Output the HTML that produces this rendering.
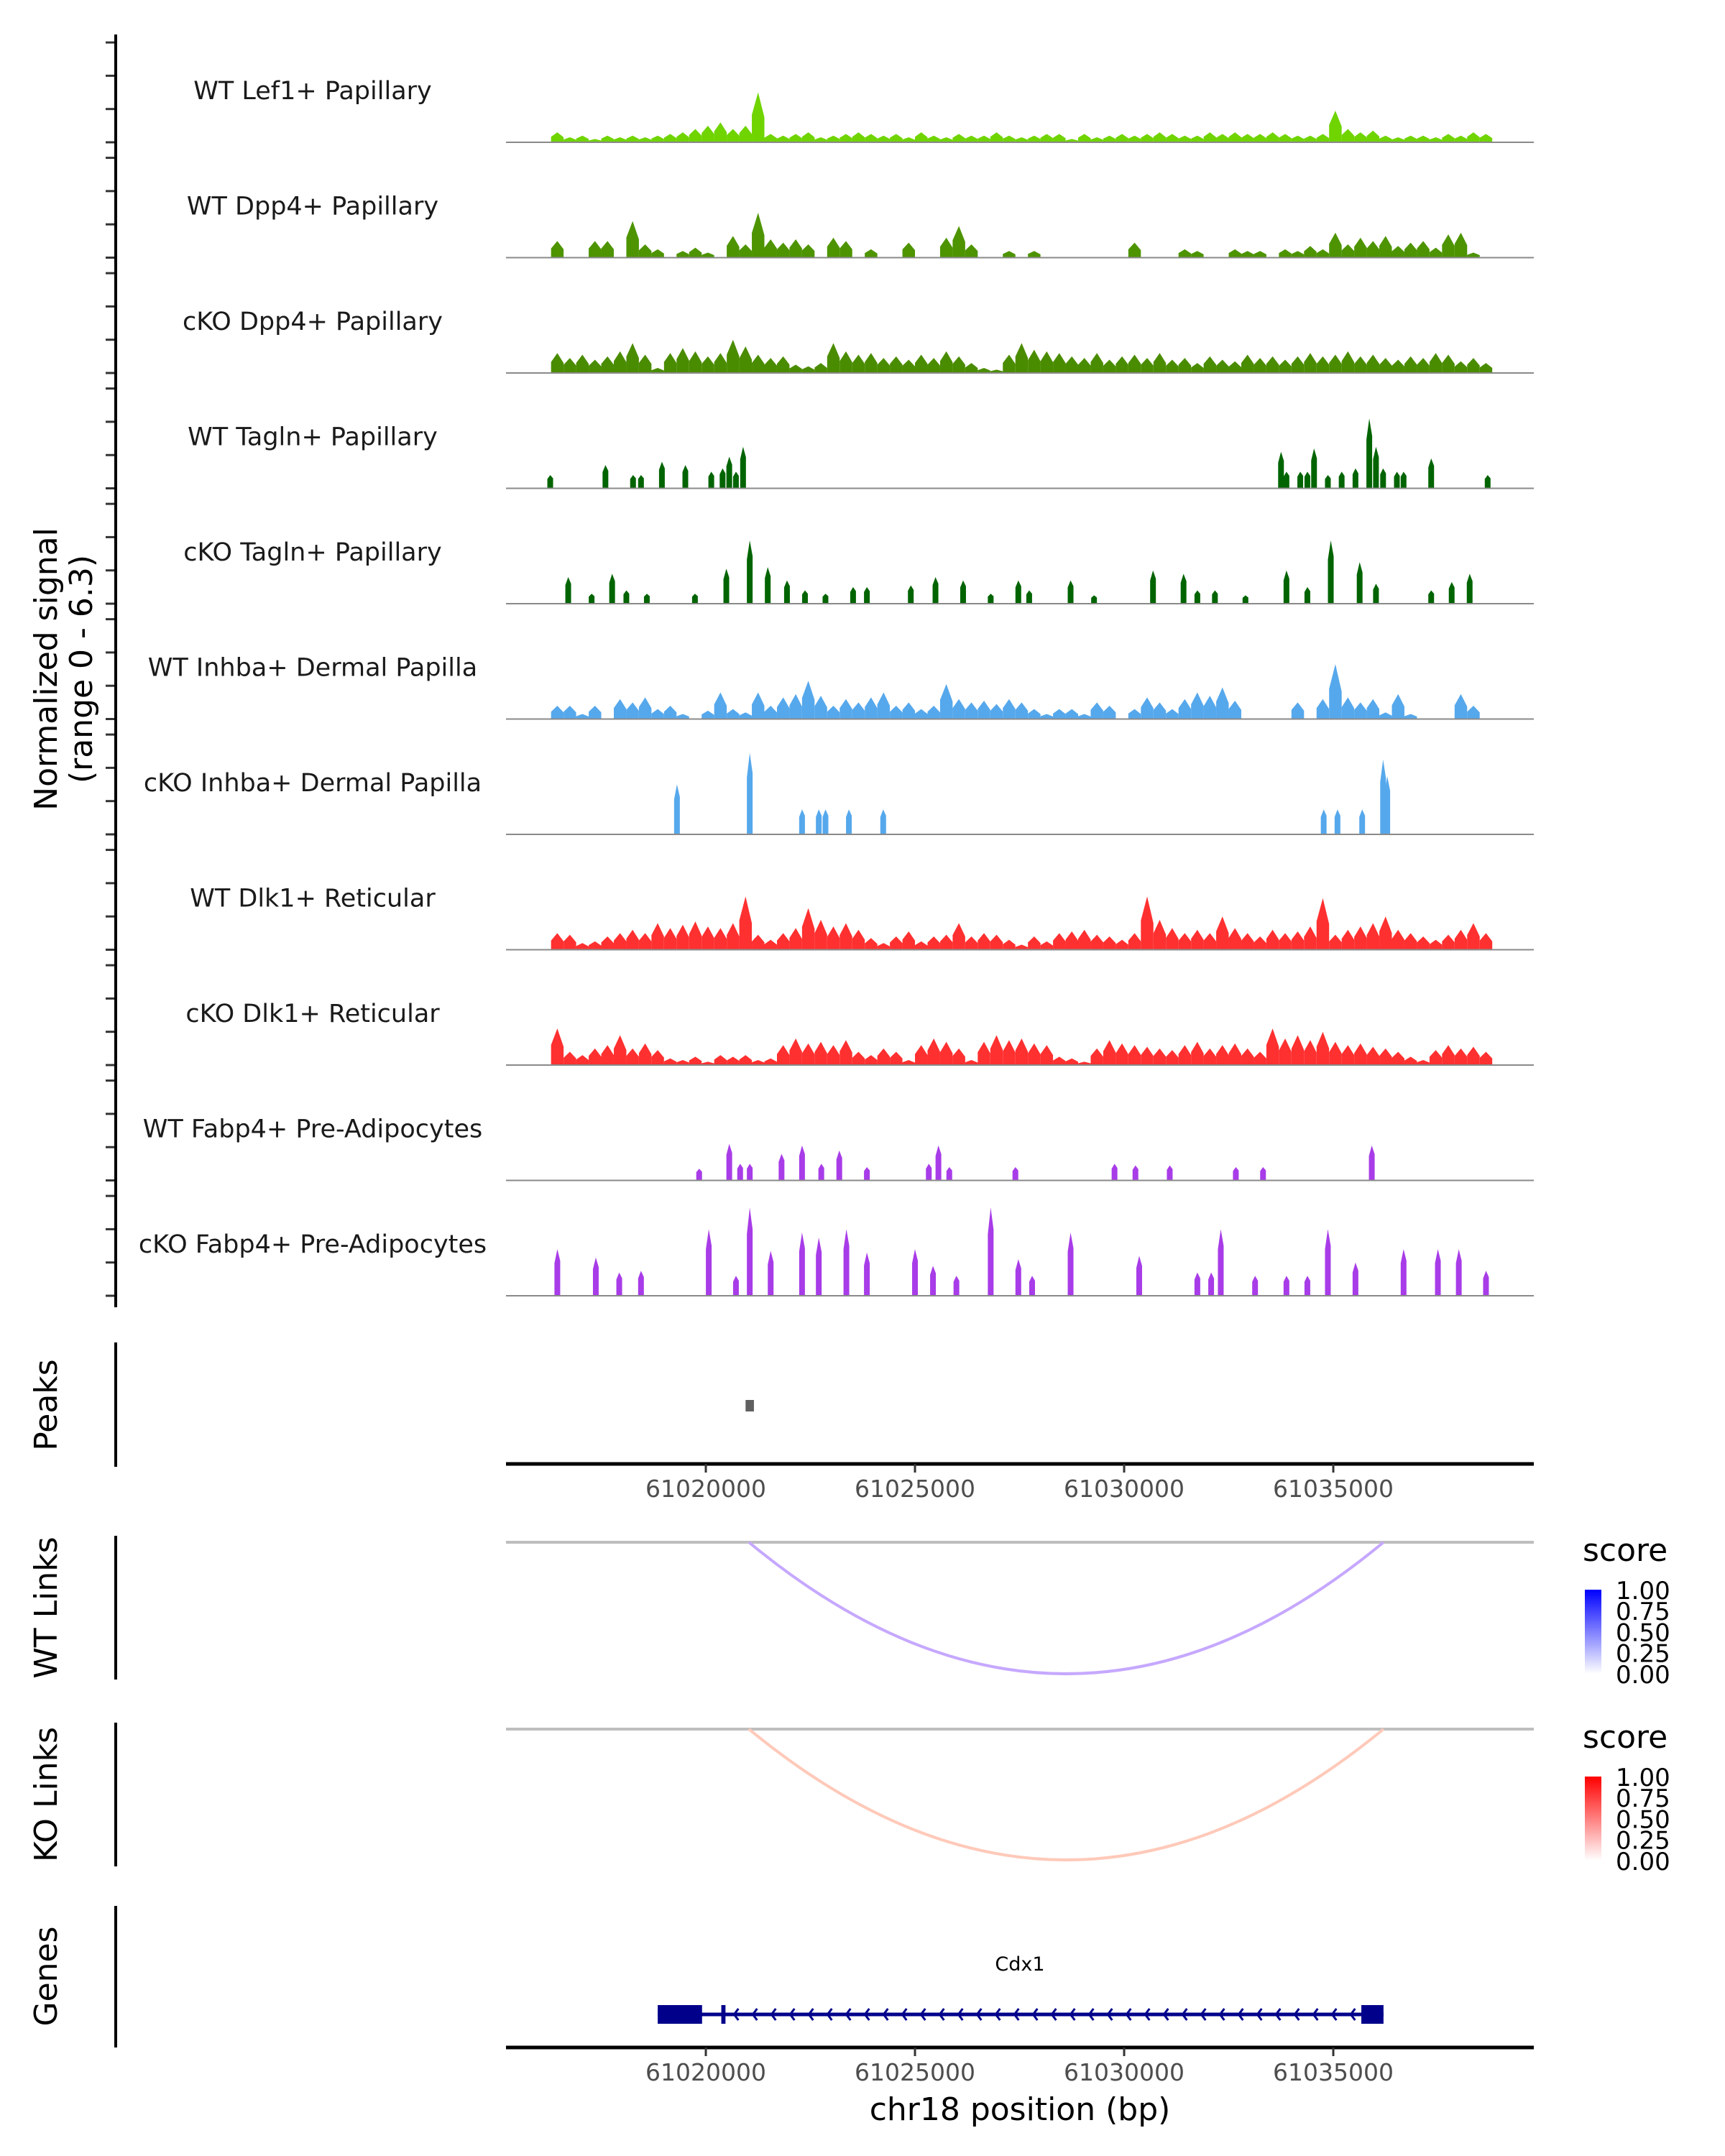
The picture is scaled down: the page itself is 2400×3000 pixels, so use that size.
<!DOCTYPE html>
<html><head><meta charset="utf-8"><style>
html,body{margin:0;padding:0;background:#fff;}
svg{display:block;font-family:"DejaVu Sans","Liberation Sans",sans-serif;}
</style></head><body>
<svg id="chart" width="2400" height="3000" viewBox="0 0 2400 3000" xmlns="http://www.w3.org/2000/svg">
<defs>
<linearGradient id="gBlue" x1="0" y1="0" x2="0" y2="1"><stop offset="0" stop-color="#0000ff"/><stop offset="1" stop-color="#ffffff"/></linearGradient>
<linearGradient id="gRed" x1="0" y1="0" x2="0" y2="1"><stop offset="0" stop-color="#ff0000"/><stop offset="1" stop-color="#ffffff"/></linearGradient>
</defs>
<g id="tracks"></g>
<g id="rest"></g>
</svg>
<script>
// positions in kb offset from 61015000 bp
const trackNames = ["WT Lef1+ Papillary","WT Dpp4+ Papillary","cKO Dpp4+ Papillary","WT Tagln+ Papillary","cKO Tagln+ Papillary","WT Inhba+ Dermal Papilla","cKO Inhba+ Dermal Papilla","WT Dlk1+ Reticular","cKO Dlk1+ Reticular","WT Fabp4+ Pre-Adipocytes","cKO Fabp4+ Pre-Adipocytes"];
const trackColors = ["#6fd400","#4d9400","#4a8c00","#006400","#006400","#56a8ec","#56a8ec","#ff3030","#ff3030","#a83ce8","#a83ce8"];
const binStartKb = 1.30;
const binWidthKb = 0.3;
const lef1WT = [0.6,0.3,0.4,0.2,0.4,0.3,0.4,0.3,0.4,0.5,0.6,0.8,1.0,1.2,0.8,1.0,3.0,0.5,0.4,0.5,0.6,0.3,0.4,0.5,0.6,0.5,0.4,0.5,0.3,0.6,0.4,0.3,0.5,0.4,0.4,0.6,0.4,0.3,0.4,0.5,0.5,0.2,0.5,0.3,0.4,0.5,0.4,0.5,0.6,0.5,0.4,0.4,0.6,0.5,0.6,0.5,0.5,0.6,0.5,0.4,0.4,0.5,1.9,0.8,0.6,0.7,0.4,0.3,0.4,0.4,0.3,0.5,0.4,0.6,0.5];
const dpp4WT = [1.0,0,0,1.0,1.0,0,2.2,0.8,0.5,0,0.4,0.6,0.3,0,1.3,0.8,2.7,1.1,0.9,1.1,0.8,0,1.2,1.0,0,0.5,0,0,0.9,0,0,1.2,1.9,0.8,0,0,0.4,0,0.4,0,0,0,0,0,0,0,0.9,0,0,0,0.5,0.4,0,0,0.5,0.4,0.4,0,0.5,0.4,0.7,0.5,1.5,0.8,1.2,1.0,1.3,0.7,0.9,1.0,0.6,1.4,1.5,0.3,0];
const dpp4KO = [1.2,0.9,1.1,0.8,1.0,1.3,1.8,1.1,0.3,1.2,1.5,1.3,1.0,1.2,2.0,1.6,1.1,0.9,1.0,0.5,0.4,0.6,1.8,1.3,1.1,1.2,0.9,1.0,0.8,1.1,0.9,1.3,1.0,0.6,0.3,0.2,1.1,1.8,1.4,1.3,1.2,1.0,0.9,1.2,0.8,1.0,1.1,0.9,1.2,0.8,0.9,0.6,1.0,0.8,0.7,1.1,0.9,1.0,0.8,1.0,1.2,1.0,1.1,1.3,1.0,1.1,0.9,0.8,1.0,0.9,1.2,1.1,0.7,0.9,0.6];
const inhbaWT = [0.8,0.8,0.3,0.8,0,1.2,1.0,1.3,0.6,0.8,0.3,0,0.5,1.6,0.6,0.4,1.6,0.8,1.3,1.5,2.3,1.4,0.8,1.2,1.0,1.3,1.6,0.8,1.0,0.6,0.8,2.1,1.2,1.0,1.1,0.9,1.2,1.0,0.6,0.3,0.6,0.6,0.3,1.0,0.8,0,0.6,1.3,1.0,0.6,1.2,1.6,1.4,1.9,1.1,0,0,0,0,1.0,0,1.2,3.3,1.3,1.0,1.2,0.4,1.5,0.3,0,0,0,1.5,0.8,0];
const dlk1WT = [1.0,0.9,0.4,0.5,0.8,1.0,1.2,1.0,1.6,1.3,1.5,1.7,1.4,1.3,1.6,3.2,0.9,0.6,1.0,1.3,2.5,1.8,1.4,1.6,1.2,0.7,0.4,0.8,1.1,0.5,0.8,0.9,1.6,0.8,1.0,0.9,0.6,0.3,0.8,0.5,1.0,1.1,1.2,0.9,0.8,0.6,1.0,3.2,1.8,1.3,1.0,1.2,1.0,2.0,1.3,1.0,0.8,1.2,1.0,1.1,1.4,3.1,0.9,1.2,1.4,1.6,2.0,1.2,1.0,0.8,0.6,0.9,1.2,1.6,1.0];
const dlk1KO = [2.2,0.8,0.6,1.0,1.2,1.8,1.0,1.3,0.9,0.4,0.3,0.5,0.2,0.6,0.5,0.6,0.3,0.4,1.2,1.6,1.3,1.4,1.2,1.5,0.8,0.6,1.0,0.8,0.3,1.2,1.6,1.4,1.0,0.3,1.4,1.8,1.5,1.6,1.3,1.2,0.5,0.4,0.2,1.0,1.5,1.3,1.2,1.1,1.0,0.9,1.2,1.4,1.0,1.2,1.3,1.0,0.8,2.2,1.6,1.8,1.5,2.0,1.4,1.2,1.3,1.1,1.0,0.8,0.5,0.3,0.9,1.2,1.0,1.1,0.8];
const taglnWTPos = [1.28,2.6,3.26,3.45,3.95,4.51,5.13,5.4,5.56,5.72,5.89,18.75,18.88,19.21,19.38,19.54,19.87,20.2,20.53,20.86,21.02,21.19,21.52,21.68,22.34,23.69];
const taglnWTVal = [0.8,1.4,0.8,0.8,1.6,1.4,1.0,1.2,1.9,1.0,2.5,2.2,1.0,1.0,1.0,2.4,0.8,1.0,1.2,4.2,2.5,1.2,1.0,1.0,1.8,0.8];
const taglnKOPos = [1.71,2.27,2.76,3.1,3.59,4.74,5.49,6.05,6.48,6.94,7.37,7.86,8.52,8.85,9.90,10.49,11.15,11.81,12.47,12.73,13.72,14.28,15.69,16.42,16.75,17.17,17.90,18.88,19.38,19.94,20.63,21.02,22.34,22.83,23.26];
const taglnKOVal = [1.6,0.6,1.8,0.8,0.6,0.6,2.1,3.8,2.2,1.4,0.8,0.6,1.0,1.0,1.1,1.6,1.4,0.6,1.4,0.8,1.4,0.5,2.0,1.8,0.8,0.8,0.5,2.0,1.0,3.8,2.5,1.2,0.8,1.3,1.8];
const inhbaKOPos = [4.31,6.05,7.30,7.70,7.86,8.42,9.24,19.77,20.10,20.69,21.19,21.29];
const inhbaKOVal = [3.0,4.9,1.5,1.5,1.5,1.5,1.5,1.5,1.5,1.5,4.5,3.5];
const fabp4WTPos = [4.84,5.56,5.82,6.05,6.81,7.30,7.76,8.19,8.85,10.33,10.56,10.82,12.40,14.77,15.27,16.09,17.67,18.32,20.92];
const fabp4WTVal = [0.7,2.2,1.0,1.0,1.6,2.1,1.0,1.8,0.8,1.0,2.1,0.8,0.8,1.0,0.9,0.9,0.8,0.8,2.1];
const fabp4KOPos = [1.45,2.37,2.93,3.45,5.07,5.72,6.05,6.55,7.30,7.70,8.36,8.85,10.0,10.43,10.99,11.81,12.47,12.80,13.72,15.36,16.75,17.08,17.31,18.13,18.88,19.38,19.87,20.53,21.68,22.50,23.0,23.65];
const fabp4KOVal = [2.8,2.3,1.4,1.5,4.0,1.2,5.3,2.7,3.8,3.5,4.0,2.6,2.8,1.8,1.2,5.3,2.2,1.2,3.8,2.4,1.4,1.4,4.0,1.2,1.2,1.2,4.0,2.0,2.8,2.8,2.8,1.5];
const xTicks = [61020000,61025000,61030000,61035000];
const peakStartKb = [5.95];
const peakEndKb = [6.15];
const linkStartKb = [6.03];
const linkEndKb = [21.2];
const geneExonStartKb = [3.85,5.37,20.67];
const geneExonEndKb = [4.91,5.47,21.2];
const legendTicks = ["1.00","0.75","0.50","0.25","0.00"];

const NS = "http://www.w3.org/2000/svg";
const X0 = 704, X1 = 2134, KB0 = 0.223, PXKB = 58.2;
function xs(kb){ return X0 + (kb - KB0) * PXKB; }
const UNIT = 23.15;
function mk(tag, attrs, parent){ const e=document.createElementNS(NS,tag); for(const k in attrs) e.setAttribute(k,attrs[k]); parent.appendChild(e); return e; }
const T = document.getElementById("tracks");
const R = document.getElementById("rest");

const binTracks = {0:lef1WT,1:dpp4WT,2:dpp4KO,5:inhbaWT,7:dlk1WT,8:dlk1KO};
const peakTracks = {3:[taglnWTPos,taglnWTVal],4:[taglnKOPos,taglnKOVal],6:[inhbaKOPos,inhbaKOVal],9:[fabp4WTPos,fabp4WTVal],10:[fabp4KOPos,fabp4KOVal]};

let ax = mk("line",{x1:161,y1:48,x2:161,y2:1819,stroke:"#000","stroke-width":4},R);



trackNames.forEach((name,i)=>{
  const base = 198 + i*160.5;
  const g = mk("g",{},T);
  
  
  const col = trackColors[i];
  if(binTracks[i]){
    const arr = binTracks[i];
    arr.forEach((v,j)=>{
      if(v<=0) return;
      const xa = xs(binStartKb + j*binWidthKb), xb = xs(binStartKb + (j+1)*binWidthKb);
      const h = v*UNIT;
      const p = mk("path",{d:`M${xa},${base} L${xa},${base-h*0.55} L${(xa+xb)/2},${base-h} L${xb},${base-h*0.5} L${xb},${base} Z`,fill:col},g);
      
      
    });
  } else {
    const [pos,val] = peakTracks[i];
    pos.forEach((kb,j)=>{
      const xc = xs(kb), h = val[j]*UNIT;
      const p = mk("path",{d:`M${xc-4},${base} L${xc-4},${base-h*0.7} L${xc},${base-h} L${xc+4},${base-h*0.75} L${xc+4},${base} Z`,fill:col},g);
      
      
    });
  }
  const bl = mk("line",{x1:X0,y1:base,x2:X1,y2:base,stroke:"#8a8a8a","stroke-width":2},g);
  
  
  const t = mk("text",{x:435,y:base-60,"text-anchor":"middle","font-size":35,fill:"#1a1a1a"},g);
  t.textContent = name;
  
  
  for(let k=0;k<4;k++){
    const y = base - k*46.3;
    const tk = mk("line",{x1:147,y1:y,x2:161,y2:y,stroke:"#333","stroke-width":3},g);
    
    
  }
});

function vtext(txt,x,y,size,name){
  const t = mk("text",{x:0,y:0,"text-anchor":"middle","font-size":size,fill:"#000",transform:`translate(${x},${y}) rotate(-90)`},R);
  t.textContent = txt;
  
  
}
vtext("Normalized signal",79,931,44,"y-axis-title");
vtext("(range 0 - 6.3)",128,931,44,"y-axis-subtitle");
vtext("Peaks",79,1955,44,"peaks-title");
vtext("WT Links",79,2237,44,"wt-links-title");
vtext("KO Links",79,2497,44,"ko-links-title");
vtext("Genes",79,2750,44,"genes-title");

[[1868,2041,'peaks-axis'],[2137,2337,'wt-links-axis'],[2397,2597,'ko-links-axis'],[2652,2849,'genes-axis']].forEach(a=>{
  const l = mk("line",{x1:161,y1:a[0],x2:161,y2:a[1],stroke:"#000","stroke-width":4},R);
  
  
});

peakStartKb.forEach((s,i)=>{
  const r = mk("rect",{x:xs(s),y:1948,width:xs(peakEndKb[i])-xs(s),height:16,fill:"#606060"},R);
  
  
});

function xAxis(y,name){
  const l = mk("line",{x1:X0,y1:y,x2:X1,y2:y,stroke:"#000","stroke-width":5},R);
  
  
  xTicks.forEach(v=>{
    const x = xs((v-61015000)/1000);
    const tk = mk("line",{x1:x,y1:y,x2:x,y2:y+12,stroke:"#333","stroke-width":3},R);
    
    
    const t = mk("text",{x:x,y:y+46,"text-anchor":"middle","font-size":33,fill:"#4d4d4d"},R);
    t.textContent = v;
    
    
  });
}
xAxis(2037,'peaks-x-axis');
xAxis(2849,'genes-x-axis');
const xt = mk("text",{x:1419,y:2950,"text-anchor":"middle","font-size":44,fill:"#000"},R);
xt.textContent = "chr18 position (bp)";



function links(top,bottom,col,name){
  const l = mk("line",{x1:X0,y1:top,x2:X1,y2:top,stroke:"#bebebe","stroke-width":4},R);
  
  
  linkStartKb.forEach((s,i)=>{
    const xa = xs(s), xb = xs(linkEndKb[i]);
    const cy = 2*bottom - top;
    const p = mk("path",{d:`M${xa},${top} Q${(xa+xb)/2},${cy} ${xb},${top}`,fill:"none",stroke:col,"stroke-width":4},R);
    
    
  });
}
links(2146,2329,"#c6a8ff","wt-link");
links(2406,2588,"#ffc9b9","ko-link");

function legend(top,grad,name){
  const t = mk("text",{x:2202,y:top-10,"font-size":44,fill:"#000"},R);
  t.textContent = "score";
  
  
  const r = mk("rect",{x:2205,y:top+30,width:23,height:117,fill:`url(#${grad})`},R);
  
  
  legendTicks.forEach((lab,k)=>{
    const y = top+30 + k*29.2;
    const tl = mk("text",{x:2248,y:y+13,"font-size":34,fill:"#000"},R);
    tl.textContent = lab;
    
    
  });
}
legend(2182,"gBlue","wt-legend");
legend(2442,"gRed","ko-legend");

const gy = 2803;
const gl = mk("line",{x1:xs(geneExonStartKb[0]),y1:gy,x2:xs(geneExonEndKb[2]),y2:gy,stroke:"#00008b","stroke-width":5},R);


for(let x=xs(geneExonEndKb[1])+12;x<xs(geneExonStartKb[2])-6;x+=26){
  const a = mk("path",{d:`M${x+6},${gy-8} L${x},${gy} L${x+6},${gy+8}`,fill:"none",stroke:"#00008b","stroke-width":3},R);
  
  
}
geneExonStartKb.forEach((s,i)=>{
  const r = mk("rect",{x:xs(s),y:gy-13,width:xs(geneExonEndKb[i])-xs(s),height:26,fill:"#00008b"},R);
  
  
});
const gn = mk("text",{x:1419,y:2742,"text-anchor":"middle","font-size":27,fill:"#000"},R);
gn.textContent = "Cdx1";


</script>
</body></html>
